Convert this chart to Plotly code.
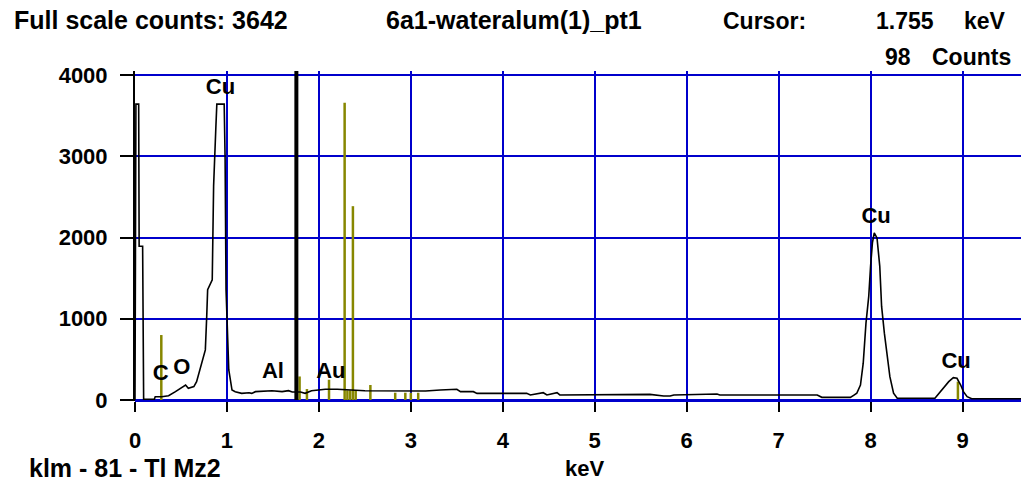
import plotly.graph_objects as go

# EDS spectrum (energy in keV, counts); values above full scale are clipped at 3642
spec_kev = [0.0, 0.01, 0.04, 0.045, 0.083, 0.09, 0.094, 0.21, 0.22, 0.29, 0.365, 0.44,
            0.49, 0.55, 0.58, 0.64, 0.67, 0.73, 0.765, 0.78, 0.79, 0.84, 0.855, 0.88,
            0.89, 0.97, 0.98, 0.99, 1.02, 1.055, 1.09, 1.16, 1.24, 1.27, 1.31, 1.49,
            1.60, 1.67, 1.71, 1.755, 1.80, 1.85, 1.92, 2.07, 2.2, 2.5, 3.16, 3.32, 3.50,
            3.54, 3.68, 3.72, 4.26, 4.30, 4.44, 4.48, 4.59, 4.62, 5.60, 5.75, 5.82,
            5.86, 6.33, 6.36, 7.42, 7.47, 7.78, 7.82, 7.85, 7.89, 7.92, 7.95, 7.98,
            8.00, 8.02, 8.04, 8.07, 8.10, 8.12, 8.15, 8.18, 8.21, 8.25, 8.29, 8.70,
            8.74, 8.79, 8.85, 8.90, 8.94, 8.98, 9.01, 9.05, 9.10, 9.64]
spec_counts = [0, 3642, 3642, 1893, 1893, 41, 9, 9, 41, 41, 53, 103,
               136, 185, 144, 165, 226, 453, 617, 1028, 1358, 1481, 2633, 3374,
               3642, 3642, 2963, 1358, 370, 123, 103, 82, 90, 82, 103, 115,
               103, 115, 98, 98, 98, 82, 115, 132, 132, 115, 111, 123, 132,
               103, 103, 82, 82, 62, 90, 62, 90, 62, 70, 49, 49,
               61, 74, 61, 61, 33, 33, 61, 83, 185, 453, 947, 1276,
               1646, 1934, 2058, 1996, 1646, 1152, 823, 535, 288, 83, 21, 21,
               74, 144, 226, 276, 267, 185, 103, 41, 15, 15]

# KLM marker lines
klm_kev = [0.286, 1.79, 1.87, 2.11, 2.28, 2.31, 2.34, 2.37, 2.40, 2.56, 2.83, 2.94, 3.00, 3.08, 8.95]
klm_height = [800, 290, 135, 250, 3660, 120, 120, 2386, 120, 185, 90, 90, 90, 90, 226]

# Peak identification labels
peak_names = ["Cu", "C", "O", "Al", "Au", "Cu", "Cu"]
peak_kev = [0.93, 0.28, 0.51, 1.50, 2.13, 8.06, 8.93]
peak_counts = [3840, 320, 388, 338, 345, 2246, 468]

x_ticks = [0, 1, 2, 3, 4, 5, 6, 7, 8, 9]
y_ticks = [0, 1000, 2000, 3000, 4000]

cursor_kev = 1.755
cursor_counts = 98
full_scale = 3642
sample_name = "6a1-wateralum(1)_pt1"

FONT = "Liberation Sans, Arial, sans-serif"
GRID = "rgb(0,0,204)"
OLIVE = "rgb(135,135,0)"
FS = 22

fig = go.Figure()

# KLM markers as vertical segments
mx, my = [], []
for e, h in zip(klm_kev, klm_height):
    mx += [e, e, None]
    my += [0, h, None]
fig.add_trace(go.Scatter(x=mx, y=my, mode="lines",
                         line=dict(color=OLIVE, width=2.5), hoverinfo="skip"))

fig.add_trace(go.Scatter(x=spec_kev, y=spec_counts, mode="lines",
                         line=dict(color="black", width=1.6)))

fig.add_trace(go.Scatter(x=peak_kev, y=peak_counts, mode="text", text=peak_names,
                         textfont=dict(family=FONT, size=FS, color="black", weight="bold"),
                         textposition="middle center"))

# cursor
fig.add_shape(type="line", x0=cursor_kev, x1=cursor_kev, y0=0, y1=4050,
              xref="x", yref="y", line=dict(color="black", width=4))

def txt(x, y, s, anchor="left", size=FS):
    fig.add_annotation(x=x, y=y, xref="paper", yref="paper", text=s, showarrow=False,
                       xanchor=anchor, yanchor="middle",
                       font=dict(family=FONT, size=size, color="black", weight="bold"))

L, W, B, H = 135, 886, 401, 330
px = lambda p: (p - L) / W
py = lambda p: (B - p) / H

txt(px(12), py(20), f"Full scale counts: {full_scale}", size=25)
txt(px(384), py(20), sample_name, size=25)
txt(px(721), py(21), "Cursor:", size=23)
txt(px(936), py(21), f"{cursor_kev:.3f}", "right", size=23)
txt(px(1008), py(21), "keV", "right", size=23)
txt(px(913), py(57), f"{cursor_counts}", "right", size=23)
txt(px(1013), py(57), "Counts", "right", size=23)
txt(px(27), py(468), "klm - 81 - Tl Mz2", size=25)
txt(px(584), py(468), "keV", "center")

fig.update_layout(
    width=1021, height=489,
    margin=dict(l=L, r=0, t=71, b=88),
    paper_bgcolor="white", plot_bgcolor="white",
    showlegend=False,
    xaxis=dict(range=[0, 9.636], tickvals=x_ticks, ticktext=[str(v) for v in x_ticks],
               showgrid=True, gridcolor=GRID, gridwidth=2,
               zeroline=True, zerolinecolor=GRID, zerolinewidth=2,
               ticks="outside", ticklen=10, tickwidth=2, tickcolor="black",
               ticklabelstandoff=10,
               tickfont=dict(family=FONT, size=FS, color="black", weight="bold"),
               showline=False),
    yaxis=dict(range=[-12, 4050], tickvals=y_ticks, ticktext=[str(v) for v in y_ticks],
               showgrid=True, gridcolor=GRID, gridwidth=2,
               zeroline=True, zerolinecolor=GRID, zerolinewidth=3,
               ticks="outside", ticklen=13, tickwidth=2, tickcolor="black",
               ticklabelstandoff=8,
               tickfont=dict(family=FONT, size=FS, color="black", weight="bold"),
               showline=True, linecolor="black", linewidth=2),
)

fig.write_html("out.html")
